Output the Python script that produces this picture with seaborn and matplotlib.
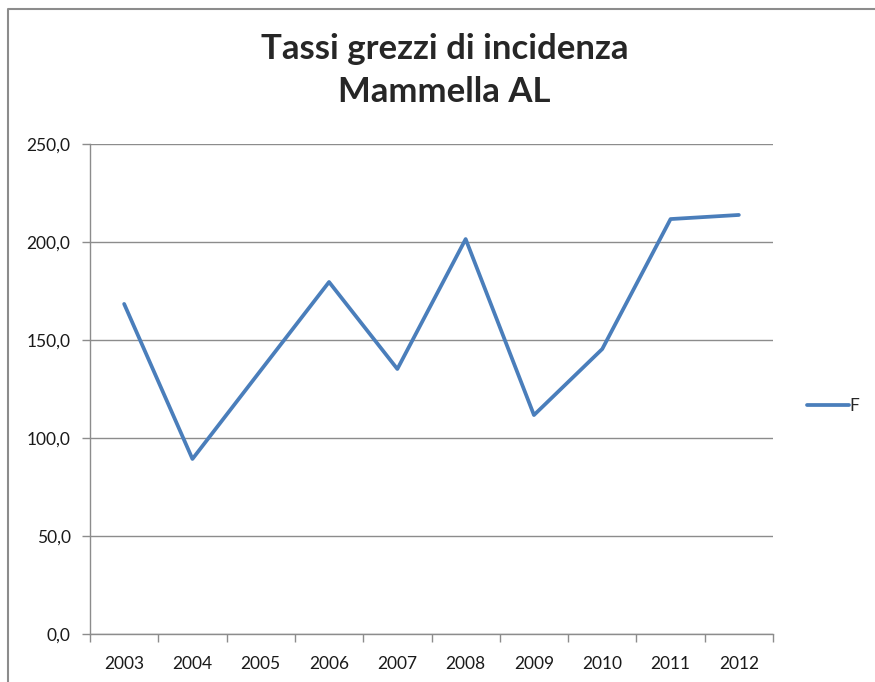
import pandas as pd
import seaborn as sns
import matplotlib.pyplot as plt
from matplotlib.lines import Line2D
from matplotlib.ticker import FuncFormatter, FixedLocator

years = ['2003', '2004', '2005', '2006', '2007', '2008', '2009', '2010', '2011', '2012']
tassi_f = [168.4, 89.3, 134.5, 179.6, 135.2, 201.5, 111.7, 145.4, 211.7, 213.8]

sns.set_style('white')
plt.rcParams['font.family'] = ['Lato', 'DejaVu Sans']

df = pd.DataFrame({'Anno': years, 'Tasso': tassi_f, 'Sesso': 'F'})

fig = plt.figure(figsize=(8.75, 6.82), dpi=100)
ax = fig.add_axes([90 / 875, 48 / 682, 683 / 875, 490 / 682])

sns.lineplot(data=df, x='Anno', y='Tasso', hue='Sesso', palette=['#4A7EBB'],
             linewidth=2.7, ax=ax, sort=False)

ax.set_xlim(-0.5, 9.5)
ax.set_ylim(0, 250)
ax.set_yticks([0, 50, 100, 150, 200, 250])
ax.yaxis.set_major_formatter(FuncFormatter(lambda v, p: f'{v:.1f}'.replace('.', ',')))
ax.yaxis.grid(True, color='#8c8c8c', linewidth=1)
ax.tick_params(axis='y', length=6, width=1, color='#8c8c8c', left=True,
               labelsize=12.5, labelcolor='#1a1a1a', pad=8)
ax.tick_params(axis='x', which='major', length=0, labelsize=12.5,
               labelcolor='#1a1a1a', pad=16)
ax.xaxis.set_minor_locator(FixedLocator([i - 0.5 for i in range(11)]))
ax.tick_params(axis='x', which='minor', length=6, width=1, color='#8c8c8c', bottom=True)
for s in ['top', 'right']:
    ax.spines[s].set_visible(False)
for s in ['left', 'bottom']:
    ax.spines[s].set_color('#8c8c8c')
    ax.spines[s].set_linewidth(1)
ax.set_xlabel('')
ax.set_ylabel('')

ax.legend(loc='center left', bbox_to_anchor=(1.027, 0.465), frameon=False,
          fontsize=12.5, handlelength=2.4, handletextpad=0.05)

fig.suptitle('Tassi grezzi di incidenza\nMammella AL', x=0.508, y=0.952,
             fontsize=25, fontweight='bold', linespacing=1.45)

# chart area frame
fig.add_artist(Line2D([8 / 875, 8 / 875, 1], [0, 1 - 9 / 682, 1 - 9 / 682],
                      transform=fig.transFigure, color='#8c8c8c', linewidth=1.5))

fig.savefig('out.png', dpi=100, facecolor='white')
